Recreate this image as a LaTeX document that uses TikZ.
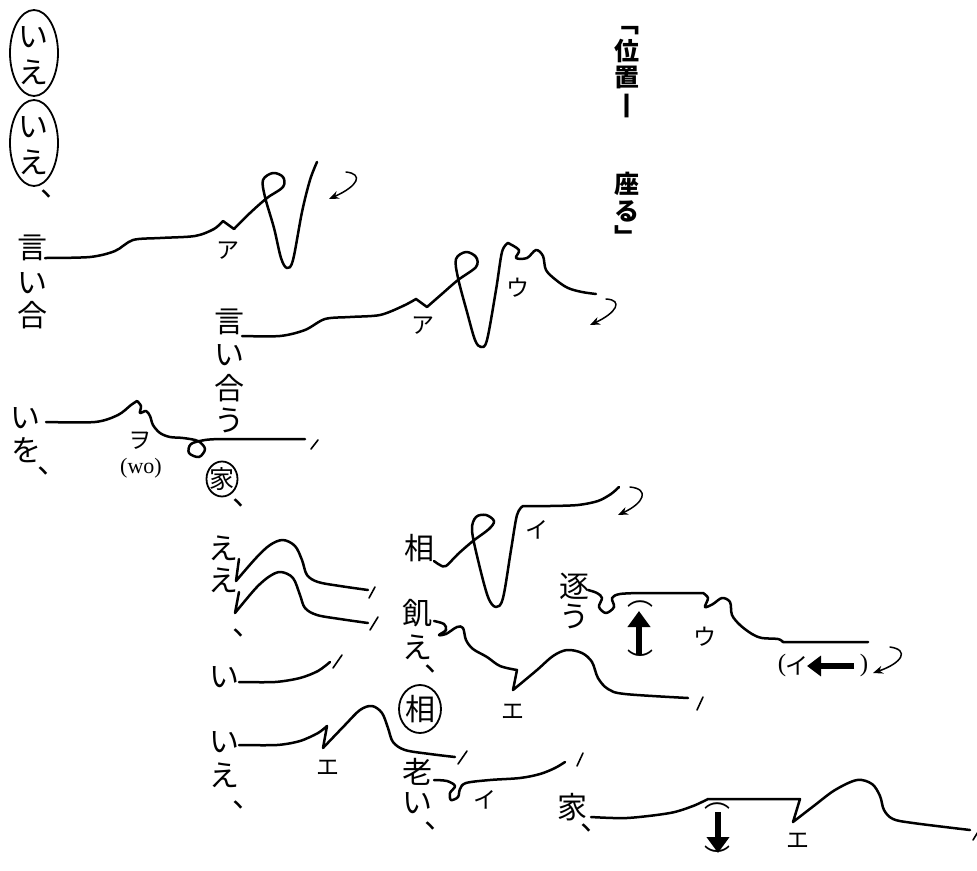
\documentclass[tikz,border=0pt]{standalone}
\usepackage{fontspec}
\newfontfamily\jp{Noto Sans CJK JP}
\newfontfamily\lserif{Liberation Serif}
\usetikzlibrary{arrows.meta,shapes.geometric}
\begin{document}
\begin{tikzpicture}[x=1pt,y=-1pt,line cap=round,line join=round,
  curve/.style={draw,line width=2.5pt},
  cut/.style={draw,line width=1.6pt},
  big/.style={font=\jp\fontsize{30}{30}\selectfont,inner sep=0pt},
  mid/.style={font=\jp\fontsize{25}{25}\selectfont,inner sep=0pt},
  lab/.style={font=\jp\fontsize{23}{23}\selectfont,inner sep=0pt},
  par/.style={font=\jp\fontsize{26}{26}\selectfont,inner sep=0pt},
  ttl/.style={font=\jp\bfseries\fontsize{25}{25}\selectfont,inner sep=0pt},
  ring/.style={draw,ellipse,line width=1.8pt,inner sep=0pt},
  curly/.style={draw,line width=1.5pt,-{Stealth[length=10pt,width=8pt]}},
  fat/.style={draw,line width=5.5pt,line cap=butt,-{Triangle[length=16pt,width=22pt]}},
  plain/.style={font=\lserif\fontsize{22}{22}\selectfont,inner sep=0pt}]
\useasboundingbox (0,0) rectangle (977,870);
\fill[white] (0,0) rectangle (977,870);

% title
\node[ttl] (t0) at (627,31) {﹁};
\node[ttl] (t1) at (627,51) {位};
\node[ttl] (t2) at (627,77) {置};
\node[ttl] (t3) at (627,106) {丨};
\node[ttl] (t4) at (627,184) {座};
\node[ttl] (t5) at (627,211) {る};
\node[ttl] (t6) at (627,236) {﹂};

% circled いえ いえ、
\node[ring,minimum width=48pt,minimum height=86pt] (r1) at (34,53) {};
\node[big] (r1a) at (33,37) {い};
\node[big] (r1b) at (33,72) {え};
\node[ring,minimum width=48pt,minimum height=86pt] (r2) at (34,143) {};
\node[big] (r2a) at (33,127) {い};
\node[big] (r2b) at (33,162) {え};
\node[big] (r2c) at (55,194) {、};

% 言い合
\node[big] (a1) at (32,248) {言};
\node[big] (a2) at (32,283) {い};
\node[big] (a3) at (32,315) {合};
\draw[curve] plot[smooth,tension=0.5] coordinates {(45,258) (90,257) (115,251) (133,240) (160,238) (195,236) (214,229) (223,221)}
  -- (234,229) -- plot[smooth,tension=0.55] coordinates {(234,229) (250,213) (267,198) (283,187) (283,177) (273,173) (263,180) (265,197) (274,228) (281,258) (287,268) (293,260) (302,212) (310,180) (317,162)};
\node[lab] (la1) at (228,251) {ア};
\draw[curly] (346,172) .. controls (364,174) and (358,186) .. (329,199);

% 言い合う
\node[big] (b1) at (229,322) {言};
\node[big] (b2) at (229,355) {い};
\node[big] (b3) at (229,388) {合};
\node[big] (b4) at (229,420) {う};
\draw[curve] plot[smooth,tension=0.5] coordinates {(242,336) (280,336) (305,330) (325,319) (350,317) (380,315) (403,306) (416,299)}
  -- (427,307) -- plot[smooth,tension=0.55] coordinates {(427,307) (443,293) (458,280) (476,267) (476,257) (466,252) (456,259) (458,278) (467,312) (475,340) (481,347) (487,340) (496,290) (502,252) (508,243)}
  -- plot[smooth,tension=0.55] coordinates {(508,243) (519,250) (516,258) (527,258) (536,250) (543,256) (546,270) (556,280) (568,288) (582,292) (596,294)};
\node[lab] (la2) at (423,326) {ア};
\node[lab] (lu1) at (518,288) {ウ};
\draw[curly] (606,299) .. controls (624,300) and (616,313) .. (590,325);

% いを、
\node[big] (c1) at (25,418) {い};
\node[big] (c2) at (26,450) {を};
\node[big] (c3) at (52,471) {、};
\draw[curve] plot[smooth,tension=0.5] coordinates {(46,422) (95,422) (118,415) (131,405) (137,401)}
  -- plot[smooth,tension=0.55] coordinates {(137,401) (141,406) (140,413) (146,411) (150,416) (153,425) (160,433) (170,437) (183,438) (198,441) (205,449) (199,457) (189,453) (191,444) (205,440) (220,439)} -- (305,439);
\draw[cut] (311,449) -- (318,440);
\node[lab] (lw) at (140,441) {ヲ};
\node[plain] (lwo) at (141,468) {(wo)};

% circled 家
\node[ring,minimum width=31pt,minimum height=35pt] (k) at (222,479) {};
\node[mid] (kc) at (222,479) {家};
\node[big] (kd) at (247,503) {、};

% ええ、
\node[big] (d1) at (223,548) {え};
\node[big] (d2) at (223,580) {え};
\node[big] (d3) at (247,633) {、};
\draw[curve] (239,559) -- (236,581) -- plot[smooth,tension=0.55] coordinates {(236,581) (256,558) (270,545) (283,540) (295,546) (302,560) (307,575) (318,582) (340,586) (368,590)};
\draw[cut] (369,598) -- (375,587);
\draw[curve] (239,592) -- (235,613) -- plot[smooth,tension=0.55] coordinates {(235,613) (256,588) (270,576) (281,572) (293,578) (300,595) (305,608) (317,615) (340,619) (368,623)};
\draw[cut] (370,630) -- (378,617);

% い
\node[big] (e1) at (224,677) {い};
\draw[curve] plot[smooth,tension=0.5] coordinates {(239,682) (275,682) (300,678) (318,671) (330,662)};
\draw[cut] (333,668) -- (342,655);

% いえ、
\node[big] (f1) at (224,742) {い};
\node[big] (f2) at (224,775) {え};
\node[big] (f3) at (247,805) {、};
\draw[curve] plot[smooth,tension=0.5] coordinates {(239,745) (277,745) (300,741) (318,733) (327,726)}
  -- (323,748) -- plot[smooth,tension=0.55] coordinates {(323,748) (345,725) (360,710) (372,706) (382,713) (388,728) (393,742) (405,750) (430,754) (455,757)};
\draw[cut] (458,764) -- (467,751);
\node[lab] (le1) at (328,768) {エ};

% 相 (upper)
\node[big] (g1) at (419,548) {相};
\draw[curve] plot[smooth,tension=0.55] coordinates {(434,561) (440,565) (446,566) (458,554) (473,541) (489,529) (494,521) (486,515) (476,517) (472,530) (478,560) (488,597) (496,607) (503,598) (511,550) (517,515) (523,506)}
  -- plot[smooth,tension=0.5] coordinates {(523,506) (550,506) (578,505) (598,501) (611,494) (619,487)};
\node[lab] (li1) at (537,530) {イ};
\draw[curly] (630,487) .. controls (650,489) and (644,503) .. (618,515);

% 飢え、
\node[big] (h1) at (417,613) {飢};
\node[big] (h2) at (417,647) {え};
\node[big] (h3) at (439,669) {、};
\draw[curve] plot[smooth,tension=0.55] coordinates {(434,621) (444,624) (446,630) (439,635) (446,634) (457,627) (463,628) (466,640) (473,649) (487,657) (500,666) (517,670)}
  -- (513,690) -- plot[smooth,tension=0.55] coordinates {(513,690) (537,670) (553,656) (567,650) (582,653) (592,662) (598,678) (608,689) (625,694) (688,698)};
\draw[cut] (697,710) -- (703,697);
\node[lab] (le2) at (513,712) {エ};

% 逐う
\node[big] (p1) at (574,586) {逐};
\node[big] (p2) at (574,616) {う};
\draw[curve] plot[smooth,tension=0.55] coordinates {(588,590) (597,593) (602,598) (599,607) (606,613) (614,607) (612,598) (620,594) (640,593)}
  -- (703,593) -- plot[smooth,tension=0.55] coordinates {(703,593) (708,598) (705,607) (713,604) (722,598) (730,602) (732,615) (740,625) (752,634) (762,638) (778,639) (783,642)} -- (868,642);
\node[par] (pa) at (640,604) {︵};
\node[par] (pb) at (640,661) {︶};
\draw[fat] (639,655) -- (639,611);
\node[lab] (lu2) at (705,637) {ウ};
\node[plain,font=\lserif\fontsize{25}{25}\selectfont] (q1) at (782,665) {(};
\node[big,font=\jp\fontsize{23}{23}\selectfont] (q2) at (797,666) {イ};
\node[plain,font=\lserif\fontsize{25}{25}\selectfont] (q3) at (864,665) {)};
\draw[fat,-{Triangle[length=14pt,width=20pt]}] (854,666) -- (807,666);
\draw[curly] (890,647) .. controls (910,650) and (902,663) .. (873,673);

% circled 相
\node[ring,minimum width=42pt,minimum height=48pt] (s) at (420,709) {};
\node[big] (sc) at (420,709) {相};

% 老い、
\node[big] (o1) at (417,772) {老};
\node[big] (o2) at (417,803) {い};
\node[big] (o3) at (439,826) {、};
\draw[curve] plot[smooth,tension=0.55] coordinates {(434,780) (447,781) (455,786) (450,793) (451,800) (458,797) (460,789) (466,783) (490,780) (520,778) (540,774) (555,768) (565,762)};
\draw[cut] (577,766) -- (583,753);
\node[lab] (li2) at (485,800) {イ};

% 家、
\node[big] (u1) at (572,807) {家};
\node[big] (u2) at (595,828) {、};
\draw[curve] plot[smooth,tension=0.5] coordinates {(591,817) (627,818) (670,813) (693,806) (708,799)}
  -- (800,799) -- (793,822) -- plot[smooth,tension=0.55] coordinates {(793,822) (815,805) (835,790) (857,780) (872,784) (880,796) (884,810) (893,819) (913,823) (970,830)};
\draw[cut] (973,840) -- (981,827);
\node[par] (ua) at (717,806) {︵};
\node[par] (ub) at (717,857) {︶};
\draw[fat] (718,812) -- (718,853);
\node[lab] (le3) at (798,841) {エ};
\end{tikzpicture}
\end{document}
